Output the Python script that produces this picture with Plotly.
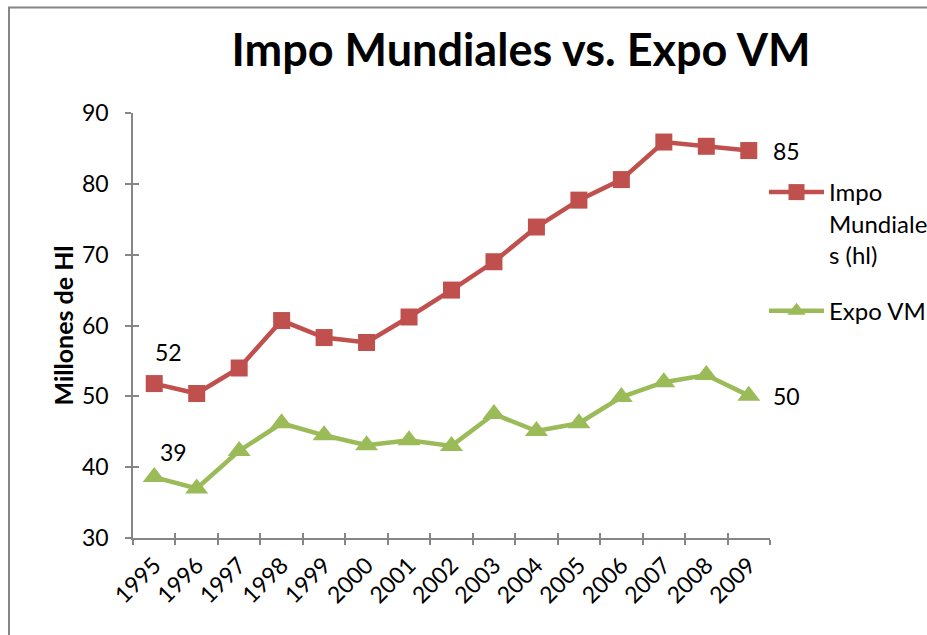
import plotly.graph_objects as go

years = ["1995", "1996", "1997", "1998", "1999", "2000", "2001", "2002",
         "2003", "2004", "2005", "2006", "2007", "2008", "2009"]
impo = [51.8, 50.4, 54.0, 60.7, 58.3, 57.6, 61.2, 65.0, 69.0, 73.9, 77.7, 80.6, 85.9, 85.3, 84.7]
expo = [38.6, 37.0, 42.3, 46.2, 44.5, 43.1, 43.8, 43.0, 47.5, 45.1, 46.2, 49.9, 52.0, 53.0, 50.1]

impo_name = "Impo<br>Mundiale<br>s (hl)"
expo_name = "Expo VM"
title_text = "Impo Mundiales vs. Expo VM"
ytitle = "Millones de Hl"

RED = "#C0504D"
GREEN = "#9BBB59"
AXIS = "#868686"
FONT = "Lato"

W, H = 927, 635
# plot area in screen pixels
SX0, SX1, SY0, SY1 = 133, 770, 113, 538
L, R, T, B = SX0, W - SX1, SY0, H - SY1
pw, ph = W - L - R, H - T - B

def px_x(s):
    return (s - L) / pw

def px_y(s):
    return (H - B - s) / ph

fig = go.Figure()
fig.add_trace(go.Scatter(
    x=years, y=impo, name=impo_name, mode="lines+markers",
    line=dict(color=RED, width=4.5),
    marker=dict(symbol="square", size=17, color=RED),
    legendgroup="a",
))
fig.add_trace(go.Scatter(
    x=years, y=expo, name=expo_name, mode="lines+markers",
    line=dict(color=GREEN, width=4.5),
    marker=dict(symbol="triangle-up", size=20, color=GREEN),
    legendgroup="b",
))
# invisible trace for the overlay axes (inner half of crossing ticks)
fig.add_trace(go.Scatter(
    x=years, y=impo, xaxis="x2", yaxis="y2", mode="lines",
    line=dict(width=0), hoverinfo="skip", showlegend=False,
))

tickfont = dict(family=FONT, size=23, color="#000000")

fig.update_layout(
    width=W, height=H,
    margin=dict(l=L, r=R, t=T, b=B, autoexpand=False),
    paper_bgcolor="white", plot_bgcolor="white",
    showlegend=True,
    title=dict(text=title_text, x=521 / W, xanchor="center", xref="container",
               y=1 - 50 / H, yanchor="middle", yref="container",
               font=dict(family=FONT, size=45, color="#000000", weight="bold")),
    xaxis=dict(type="category", categoryorder="array", categoryarray=years,
               range=[-0.5, len(years) - 0.5], showline=True, linecolor=AXIS, linewidth=1.5,
               showgrid=False, zeroline=False, ticks="outside", ticklen=5, tickwidth=1.5,
               tickcolor=AXIS, tickson="boundaries", tickangle=-45, tickfont=tickfont,
               ticklabelstandoff=3),
    yaxis=dict(range=[30, 90], dtick=10, showline=True, linecolor=AXIS, linewidth=1.5,
               showgrid=False, zeroline=False, ticks="outside", ticklen=6, tickwidth=1.5,
               tickcolor=AXIS, tickfont=tickfont, ticklabelstandoff=12),
    xaxis2=dict(type="category", categoryorder="array", categoryarray=years,
                overlaying="x", anchor="y2", side="bottom",
                range=[-0.5, len(years) - 0.5], showline=False, showgrid=False, zeroline=False,
                ticks="inside", ticklen=5, tickwidth=1.5, tickcolor=AXIS,
                tickson="boundaries", showticklabels=False),
    yaxis2=dict(range=[30, 90], dtick=10, overlaying="y", anchor="x2", side="left",
                showline=False, showgrid=False, zeroline=False,
                ticks="inside", ticklen=6, tickwidth=1.5, tickcolor=AXIS, showticklabels=False),
    legend=dict(x=px_x(764), xanchor="left", y=px_y(170), yanchor="top",
                font=dict(family=FONT, size=24, color="#000000"),
                itemwidth=55, valign="top", tracegroupgap=22,
                bgcolor="rgba(0,0,0,0)"),
)

fig.add_annotation(x=px_x(62), y=0.5, xref="paper", yref="paper", text=ytitle,
                   textangle=-90, showarrow=False, xanchor="center", yanchor="middle",
                   font=dict(family=FONT, size=25, color="#000000", weight="bold"))

# data labels (category axes take the category index as position)
first, last = 0, len(years) - 1
labels = [
    (first, impo[first], 14, 32),
    (first, expo[first], 19, 25),
    (last, impo[last], 38, 0),
    (last, expo[last], 38, 0),
]
for xv, yv, dx, dy in labels:
    fig.add_annotation(x=xv, y=yv, xref="x", yref="y", text=f"{yv:.0f}",
                       showarrow=False, xshift=dx, yshift=dy,
                       font=dict(family=FONT, size=23, color="#000000"))

# outer chart frame
fig.add_shape(type="rect", xref="paper", yref="paper",
              x0=px_x(9), x1=px_x(945), y0=px_y(650), y1=px_y(7.5),
              line=dict(color=AXIS, width=2), fillcolor="rgba(0,0,0,0)", layer="below")

fig.write_html("out.html", config={"displayModeBar": False},
               post_script="document.body.style.margin='0';document.body.style.overflow='hidden';")
